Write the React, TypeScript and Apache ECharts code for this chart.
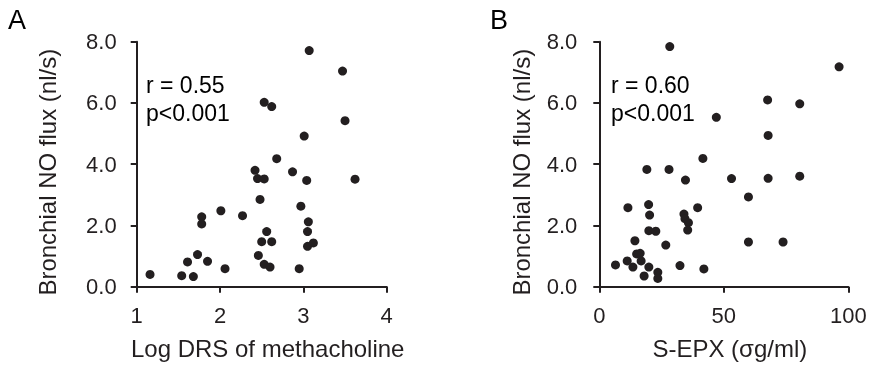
import React, { useEffect, useRef } from "react";
import * as echarts from "echarts";

const drsLog = [1.16, 1.54, 1.68, 1.61, 1.73, 1.85, 1.78, 1.78, 2.01, 2.06, 2.27, 2.42, 2.45, 2.53, 2.48, 2.68, 2.56, 2.5, 2.62, 2.46, 2.53, 2.6, 2.87, 3.01, 3.04, 2.97, 3.06, 3.05, 3.05, 3.12, 2.95, 3.5, 3.62, 3.07, 3.47, 2.53, 2.62];
const noFluxA = [0.4, 0.36, 0.33, 0.81, 1.05, 0.83, 2.28, 2.05, 2.48, 0.59, 2.32, 3.8, 3.53, 3.52, 2.85, 4.18, 1.8, 1.47, 1.47, 1.02, 0.73, 0.64, 3.75, 4.92, 3.47, 2.63, 2.12, 1.8, 1.32, 1.43, 0.59, 5.42, 3.51, 7.71, 7.04, 6.02, 5.88];

const sEpx = [28.3, 96.3, 67.6, 80.5, 47.0, 67.8, 41.6, 19.1, 28.0, 34.6, 53.1, 67.8, 80.5, 59.9, 11.5, 19.8, 20.2, 39.5, 34.0, 34.4, 35.8, 35.5, 19.9, 22.7, 26.7, 14.3, 59.9, 73.8, 15.0, 16.4, 6.5, 11.2, 13.5, 16.8, 19.9, 18.0, 23.5, 23.5, 32.4, 42.0];
const noFluxB = [7.84, 7.18, 6.1, 5.97, 5.53, 4.94, 4.19, 3.83, 3.83, 3.48, 3.53, 3.54, 3.61, 2.93, 2.58, 2.68, 2.34, 2.58, 2.37, 2.22, 2.09, 1.85, 1.83, 1.81, 1.36, 1.5, 1.46, 1.46, 1.07, 1.09, 0.71, 0.84, 0.64, 0.84, 0.64, 0.35, 0.47, 0.27, 0.69, 0.58];

const yTicks = { min: 0, max: 8, interval: 2 };
const xTicksA = { min: 1, max: 4, interval: 1 };
const xTicksB = { min: 0, max: 100, interval: 50 };
const yTitle = "Bronchial NO flux (nl/s)";
const xTitleA = "Log DRS of methacholine";
const xTitleB = "S-EPX (σg/ml)";
const statsA = ["r = 0.55", "p<0.001"];
const statsB = ["r = 0.60", "p<0.001"];

const INK = "#231f20";
const FONT = 'Arial, "Liberation Sans", sans-serif';

export default function App() {
  const ref = useRef<HTMLDivElement>(null);
  useEffect(() => {
    if (!ref.current) return;
    const chart = echarts.init(ref.current, undefined, { renderer: "svg" });
    const axisLine = { show: true, lineStyle: { color: INK, width: 2 } };
    const axisTick = { show: true, inside: false, length: 6, lineStyle: { color: INK, width: 2 } };
    const labelStyle = { color: INK, fontSize: 22, fontFamily: FONT };
    const titleStyle = { color: INK, fontSize: 24, fontFamily: FONT };
    const mkX = (idx: number, t: { min: number; max: number; interval: number }, name: string, pad: number) => ({
      type: "value",
      gridIndex: idx,
      min: t.min,
      max: t.max,
      interval: t.interval,
      axisLine,
      axisTick,
      splitLine: { show: false },
      axisLabel: { ...labelStyle, margin: 18 },
      name,
      nameLocation: "middle",
      nameGap: 50,
      nameTextStyle: { ...titleStyle, padding: [0, 0, 0, pad] },
    });
    const mkY = (idx: number, gap: number, margin: number) => ({
      type: "value",
      gridIndex: idx,
      min: yTicks.min,
      max: yTicks.max,
      interval: yTicks.interval,
      axisLine,
      axisTick,
      splitLine: { show: false },
      axisLabel: { ...labelStyle, margin, formatter: (v: number) => v.toFixed(1) },
      name: yTitle,
      nameLocation: "middle",
      nameGap: gap,
      nameTextStyle: { ...titleStyle, padding: [0, 16, 0, 0] },
    });
    chart.setOption({
      animation: false,
      textStyle: { fontFamily: FONT },
      grid: [
        { left: 136.7, top: 41.7, width: 250, height: 245 },
        { left: 599.3, top: 41.7, width: 249, height: 245 },
      ],
      xAxis: [mkX(0, xTicksA, xTitleA, 12), mkX(1, xTicksB, xTitleB, 12)],
      yAxis: [mkY(0, 77, 20), mkY(1, 66, 22)],
      series: [
        {
          type: "scatter",
          xAxisIndex: 0,
          yAxisIndex: 0,
          symbolSize: 9,
          itemStyle: { color: INK, opacity: 1 },
          data: drsLog.map((x, i) => [x, noFluxA[i]]),
        },
        {
          type: "scatter",
          xAxisIndex: 1,
          yAxisIndex: 1,
          symbolSize: 9,
          itemStyle: { color: INK, opacity: 1 },
          data: sEpx.map((x, i) => [x, noFluxB[i]]),
        },
      ],
      graphic: [
        { type: "text", left: 8, top: 6, style: { text: "A", fontSize: 27, fontFamily: FONT, fill: "#000" } },
        { type: "text", left: 490, top: 6, style: { text: "B", fontSize: 27, fontFamily: FONT, fill: "#000" } },
        { type: "text", left: 146, top: 71, style: { text: statsA.join("\n"), fontSize: 23, lineHeight: 28, fontFamily: FONT, fill: "#000" } },
        { type: "text", left: 611, top: 71, style: { text: statsB.join("\n"), fontSize: 23, lineHeight: 28, fontFamily: FONT, fill: "#000" } },
      ],
    });
    return () => chart.dispose();
  }, []);
  return <div ref={ref} style={{ position: "fixed", left: 0, top: 0, width: 872, height: 369 }} />;
}
